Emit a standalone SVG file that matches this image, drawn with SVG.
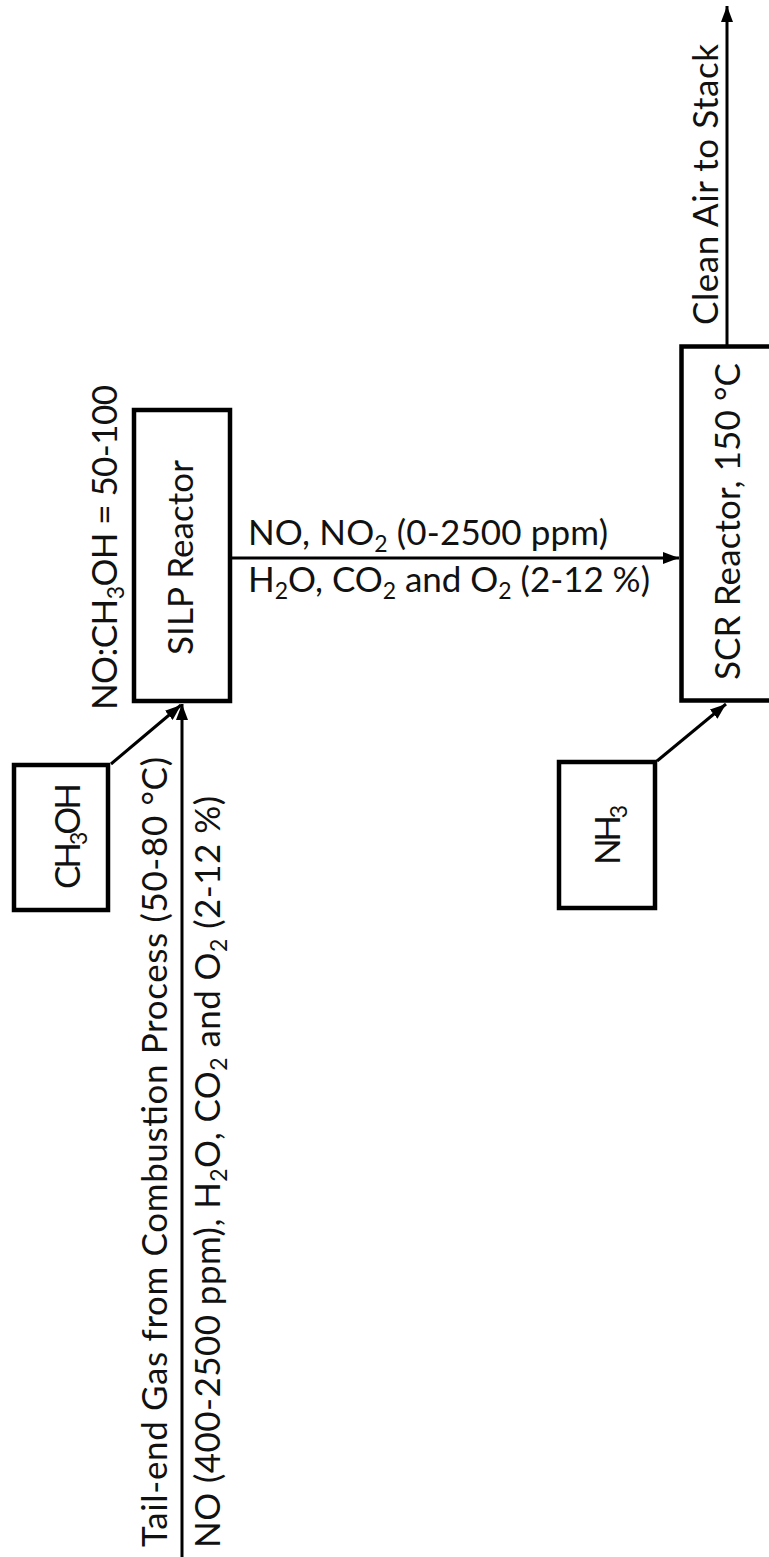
<svg xmlns="http://www.w3.org/2000/svg" width="769" height="1557" viewBox="0 0 769 1557">
<style>
.box{fill:#fff;stroke:#000;stroke-width:4.5}
.ln{stroke:#000;stroke-width:3;fill:none}
.t{font-family:Lato,"Liberation Sans",Arial,sans-serif;font-size:35px;fill:#111}
.s{font-size:23px}
</style>
<defs>
<marker id="ah" markerUnits="userSpaceOnUse" markerWidth="16" markerHeight="12" refX="16" refY="6" orient="auto">
<path d="M0,0 L16,6 L0,12 z" fill="#000"/>
</marker>
</defs>
<rect width="769" height="1557" fill="#fff"/>
<g id="connectors">
<line class="ln" x1="182" y1="1557" x2="182" y2="704" stroke-width="4" marker-end="url(#ah)"/>
<line class="ln" x1="111" y1="764" x2="181" y2="705" marker-end="url(#ah)"/>
<line class="ln" x1="232" y1="558" x2="679" y2="558" marker-end="url(#ah)"/>
<line class="ln" x1="657" y1="761" x2="726" y2="704" marker-end="url(#ah)"/>
<line class="ln" x1="727" y1="345" x2="727" y2="6" marker-end="url(#ah)"/>
</g>
<g id="ch3oh">
<rect class="box" x="14" y="765" width="94" height="145"/>
<text class="t" x="80" y="889" transform="rotate(-90 80 889)" textLength="106">CH<tspan class="s" dy="7">3</tspan><tspan dy="-7">OH</tspan></text>
</g>
<g id="silp">
<rect class="box" x="134" y="410" width="96" height="291"/>
<text class="t" x="193" y="655" transform="rotate(-90 193 655)" textLength="195">SILP Reactor</text>
</g>
<g id="nh3">
<rect class="box" x="559" y="762" width="96" height="146"/>
<text class="t" x="620" y="865" transform="rotate(-90 620 865)" textLength="60">NH<tspan class="s" dy="7">3</tspan></text>
</g>
<g id="scr">
<rect class="box" x="681.5" y="346.5" width="120" height="354"/>
<text class="t" x="740" y="680" transform="rotate(-90 740 680)" textLength="317">SCR Reactor, 150 °C</text>
</g>
<g id="labels">
<text class="t" x="167" y="1547" transform="rotate(-90 167 1547)" textLength="790">Tail-end Gas from Combustion Process (50-80 °C)</text>
<text class="t" x="220" y="1548" transform="rotate(-90 220 1548)" textLength="752">NO (400-2500 ppm), H<tspan class="s" dy="7">2</tspan><tspan dy="-7">O, CO</tspan><tspan class="s" dy="7">2</tspan><tspan dy="-7"> and O</tspan><tspan class="s" dy="7">2</tspan><tspan dy="-7"> (2-12 %)</tspan></text>
<text class="t" x="117" y="710" transform="rotate(-90 117 710)" textLength="325">NO:CH<tspan class="s" dy="7">3</tspan><tspan dy="-7">OH = 50-100</tspan></text>
<text class="t" x="248" y="545" textLength="360">NO, NO<tspan class="s" dy="7">2</tspan><tspan dy="-7"> (0-2500 ppm)</tspan></text>
<text class="t" x="248" y="592" textLength="402">H<tspan class="s" dy="7">2</tspan><tspan dy="-7">O, CO</tspan><tspan class="s" dy="7">2</tspan><tspan dy="-7"> and O</tspan><tspan class="s" dy="7">2</tspan><tspan dy="-7"> (2-12 %)</tspan></text>
<text class="t" x="718" y="325" transform="rotate(-90 718 325)" textLength="281">Clean Air to Stack</text>
</g>
</svg>
